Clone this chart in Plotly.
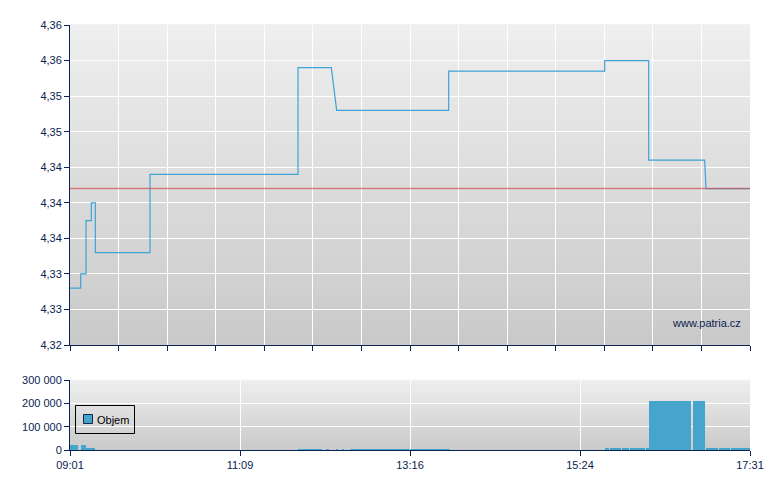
import plotly.graph_objects as go

DAY = "2015-06-05 "

# ---- price (intraday) ----
price_times = ["09:01", "09:09", "09:09", "09:13", "09:13", "09:17", "09:17", "09:20",
               "09:20", "10:01", "10:01", "11:52", "11:52", "12:17", "12:21", "13:45",
               "13:45", "15:42", "15:42", "16:15", "16:15", "16:57", "16:58", "17:31"]
price_values = [4.328, 4.328, 4.330, 4.330, 4.3375, 4.3375, 4.340, 4.340,
                4.333, 4.333, 4.344, 4.344, 4.359, 4.359, 4.353, 4.353,
                4.3585, 4.3585, 4.360, 4.360, 4.346, 4.346, 4.342, 4.342]
prev_close = 4.342

# ---- volume ----
vol_start = ["09:01", "09:09", "09:13", "11:52", "12:13", "12:21", "12:25", "12:31", "13:16",
             "15:42", "15:46", "15:55", "16:01", "16:13", "16:15", "16:48", "16:58", "17:08", "17:17"]
vol_end = ["09:07", "09:13", "09:20", "12:10", "12:15", "12:22", "12:26", "13:15", "13:46",
           "15:45", "15:54", "16:00", "16:12", "16:15", "16:47", "16:57", "17:07", "17:16", "17:31"]
vol_values = [20000, 20000, 8000, 4000, 4000, 4000, 4000, 4000, 4000,
              8000, 8000, 8000, 8000, 8000, 210000, 210000, 8000, 8000, 8000]
vol_name = "Objem"

# ---- axis labels ----
price_tickvals = [4.32, 4.325, 4.33, 4.335, 4.34, 4.345, 4.35, 4.355, 4.36, 4.365]
price_ticktext = ["4,32", "4,33", "4,33", "4,34", "4,34", "4,34", "4,35", "4,35", "4,36", "4,36"]
vol_tickvals = [0, 100000, 200000, 300000]
vol_ticktext = ["0", "100 000", "200 000", "300 000"]
time_ticktext = ["09:01", "11:09", "13:16", "15:24", "17:31"]

session_start = "09:01"
session_end = "17:31"

# ---------------------------------------------------------------
import datetime as dt

def ts(hm):
    return dt.datetime.strptime(DAY + hm, "%Y-%m-%d %H:%M")

t0, t1 = ts(session_start), ts(session_end)
span_ms = (t1 - t0).total_seconds() * 1000

NAVY = "#0b2352"
BLUE = "#45a5cc"
FONT = "Liberation Sans, Arial, sans-serif"

fig = go.Figure()

fig.add_trace(go.Scatter(
    x=[ts(t) for t in price_times], y=price_values, mode="lines",
    line=dict(color="#3fa3d6", width=1.2), showlegend=False,
    xaxis="x", yaxis="y"))
fig.add_trace(go.Scatter(
    x=[t0, t1], y=[prev_close, prev_close], mode="lines",
    line=dict(color="rgba(210,80,80,0.7)", width=1.6), showlegend=False,
    xaxis="x", yaxis="y"))

starts = [ts(s) for s in vol_start]
widths = [(ts(e) - ts(s)).total_seconds() * 1000 for s, e in zip(vol_start, vol_end)]
fig.add_trace(go.Bar(
    x=starts, y=vol_values, width=widths, offset=0, name=vol_name,
    marker=dict(color=BLUE, line=dict(width=0)), showlegend=False,
    xaxis="x2", yaxis="y2"))

# page offset (browser body margin) compensation: plot area spans px 70..750, 25..345 / 380..450
OFF = 8
L, R, T, B = 70 - OFF, 780 - 750 + OFF, 25 - OFF, 490 - 450 + OFF
PW, PH = 680, 425

def px(x):
    return (x - 70) / PW

def py(y):
    return (450 - y) / PH

# gradient backgrounds
shapes = []
N = 48
for xr, yr, c_top, c_bot in [("x domain", "y domain", 239, 201), ("x2 domain", "y2 domain", 240, 200)]:
    for i in range(N):
        f = (i + 0.5) / N
        c = round(c_top + (c_bot - c_top) * f)
        shapes.append(dict(type="rect", xref=xr, yref=yr, x0=0, x1=1,
                           y0=1 - (i + 1) / N, y1=1 - i / N + 0.002,
                           fillcolor=f"rgb({c},{c},{c})", line=dict(width=0),
                           layer="below"))

# legend box (drawn manually to match the compact original)
shapes.append(dict(type="rect", xref="paper", yref="paper",
                   x0=px(75.5), x1=px(134.5), y0=py(433.5), y1=py(405.5),
                   line=dict(color="#000000", width=1), fillcolor="rgba(0,0,0,0)", layer="above"))
shapes.append(dict(type="rect", xref="paper", yref="paper",
                   x0=px(83.5), x1=px(92.5), y0=py(423.5), y1=py(414.5),
                   line=dict(color="#10284f", width=1), fillcolor=BLUE, layer="above"))

axis_common = dict(showline=True, linecolor=NAVY, linewidth=1, ticks="outside",
                   ticklen=5, tickcolor=NAVY, tickfont=dict(family=FONT, size=11, color=NAVY),
                   gridcolor="white", gridwidth=1, zeroline=False)

top_dom = [py(345), 1.0]
bot_dom = [0.0, py(380)]

fig.update_layout(
    width=780, height=490,
    margin=dict(l=L, r=R, t=T, b=B),
    paper_bgcolor="white", plot_bgcolor="#dddddd",
    shapes=shapes,
    showlegend=False,
    font=dict(family=FONT, size=11, color=NAVY),
    bargap=0,
    xaxis=dict(axis_common, type="date", range=[t0, t1], domain=[0, 1],
               tick0=t0, dtick=span_ms / 14, showticklabels=False, anchor="y",
               matches="x2"),
    yaxis=dict(axis_common, range=[4.32, 4.365], domain=top_dom,
               tickvals=price_tickvals, ticktext=price_ticktext, anchor="x"),
    xaxis2=dict(axis_common, type="date", range=[t0, t1], domain=[0, 1],
                tickvals=[t0 + (t1 - t0) * k / 4 for k in range(5)],
                ticktext=time_ticktext, anchor="y2"),
    yaxis2=dict(axis_common, range=[0, 300000], domain=bot_dom,
                tickvals=vol_tickvals, ticktext=vol_ticktext, anchor="x2"),
    annotations=[
        dict(text="www.patria.cz", xref="x domain", yref="y domain",
             x=0.99, y=0.07, xanchor="right", yanchor="middle",
             showarrow=False, font=dict(family=FONT, size=11, color=NAVY)),
        dict(text=vol_name, xref="paper", yref="paper", x=px(95), y=py(419.5),
             xanchor="left", yanchor="middle", showarrow=False,
             font=dict(family=FONT, size=11, color="#000000")),
    ],
)

fig.write_html("out.html")
